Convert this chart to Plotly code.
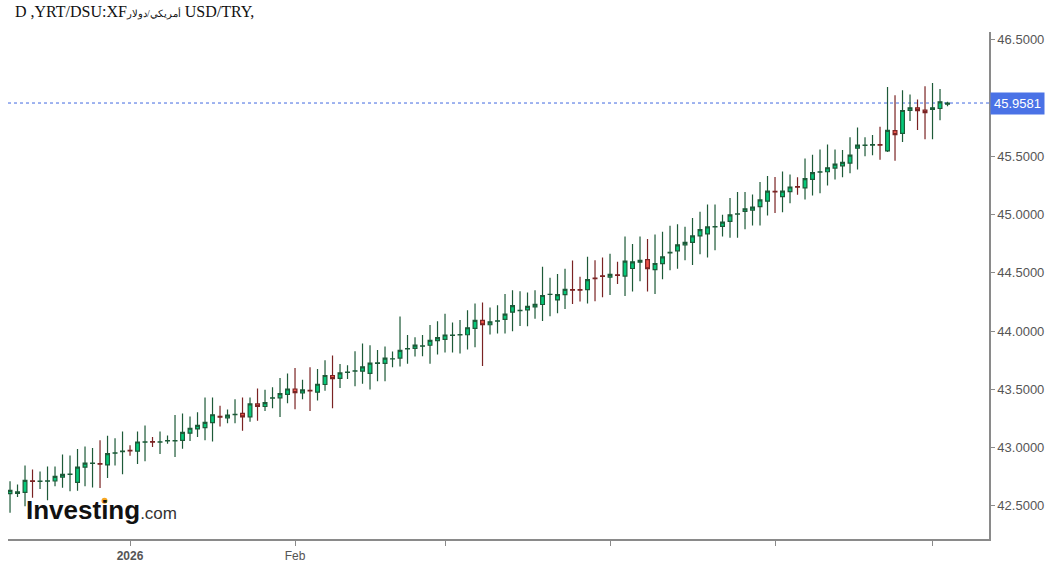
import pandas as pd
import plotly.graph_objects as go

# ---- data ----
dates = [d.strftime("%Y-%m-%d") for d in pd.bdate_range("2025-12-10", periods=126)]

open_ = [42.603, 42.605, 42.615, 42.714, 42.709, 42.710, 42.712, 42.746, 42.769, 42.701,
         42.831, 42.863, 42.862, 42.850, 42.951, 42.965, 42.975, 42.968, 43.045, 43.050,
         43.046, 43.056, 43.056, 43.061, 43.123, 43.159, 43.170, 43.213, 43.267, 43.255,
         43.282, 43.292, 43.263, 43.374, 43.352, 43.424, 43.426, 43.456, 43.502, 43.468,
         43.491, 43.475, 43.541, 43.618, 43.594, 43.645, 43.656, 43.655, 43.637, 43.723,
         43.723, 43.760, 43.768, 43.846, 43.851, 43.870, 43.878, 43.917, 43.929, 43.962,
         43.967, 43.968, 44.023, 44.091, 44.054, 44.085, 44.100, 44.162, 44.176, 44.182,
         44.207, 44.228, 44.314, 44.267, 44.313, 44.355, 44.355, 44.356, 44.455, 44.474,
         44.463, 44.483, 44.472, 44.537, 44.591, 44.614, 44.527, 44.578, 44.672, 44.689,
         44.740, 44.762, 44.817, 44.834, 44.894, 44.899, 44.941, 45.004, 45.027, 45.039,
         45.069, 45.115, 45.200, 45.155, 45.197, 45.240, 45.229, 45.303, 45.365, 45.368,
         45.399, 45.419, 45.442, 45.570, 45.595, 45.597, 45.601, 45.547, 45.721, 45.698,
         45.894, 45.917, 45.897, 45.903, 45.911, 45.948]

high = [42.709, 42.683, 42.845, 42.811, 42.794, 42.837, 42.837, 42.939, 42.931, 42.987,
        43.008, 42.996, 43.063, 43.101, 43.080, 43.138, 43.020, 43.138, 43.189, 43.090,
        43.138, 43.102, 43.278, 43.292, 43.265, 43.302, 43.430, 43.430, 43.358, 43.326,
        43.415, 43.430, 43.430, 43.506, 43.495, 43.518, 43.596, 43.636, 43.682, 43.582,
        43.690, 43.674, 43.748, 43.789, 43.716, 43.707, 43.826, 43.892, 43.878, 43.837,
        43.868, 43.824, 44.124, 43.966, 43.947, 43.966, 44.051, 44.085, 44.148, 44.074,
        44.094, 44.179, 44.236, 44.245, 44.202, 44.222, 44.318, 44.350, 44.341, 44.330,
        44.350, 44.552, 44.458, 44.489, 44.535, 44.606, 44.466, 44.638, 44.608, 44.631,
        44.663, 44.595, 44.811, 44.748, 44.811, 44.791, 44.830, 44.853, 44.904, 44.918,
        44.895, 44.970, 45.024, 45.086, 45.086, 44.998, 45.143, 45.195, 45.195, 45.172,
        45.280, 45.331, 45.323, 45.371, 45.345, 45.320, 45.482, 45.513, 45.559, 45.602,
        45.559, 45.555, 45.664, 45.747, 45.664, 45.683, 45.755, 46.096, 46.025, 46.067,
        46.031, 45.988, 46.102, 46.131, 46.079, 45.968]

low = [42.439, 42.575, 42.496, 42.569, 42.643, 42.547, 42.666, 42.654, 42.624, 42.629,
       42.666, 42.657, 42.652, 42.737, 42.845, 42.771, 42.929, 42.859, 42.882, 43.005,
       42.944, 43.031, 42.918, 42.988, 43.055, 43.090, 43.063, 43.051, 43.180, 43.207,
       43.207, 43.144, 43.221, 43.229, 43.314, 43.336, 43.262, 43.380, 43.329, 43.414,
       43.314, 43.403, 43.488, 43.336, 43.511, 43.588, 43.526, 43.548, 43.498, 43.569,
       43.569, 43.688, 43.695, 43.719, 43.782, 43.784, 43.719, 43.798, 43.815, 43.815,
       43.807, 43.841, 43.861, 43.699, 43.970, 43.978, 43.978, 43.999, 44.044, 44.042,
       44.106, 44.087, 44.127, 44.153, 44.190, 44.233, 44.254, 44.237, 44.256, 44.290,
       44.310, 44.404, 44.301, 44.340, 44.427, 44.340, 44.319, 44.444, 44.523, 44.535,
       44.608, 44.566, 44.660, 44.632, 44.694, 44.811, 44.800, 44.800, 44.873, 44.907,
       44.907, 44.992, 45.013, 45.021, 45.098, 45.170, 45.129, 45.163, 45.184, 45.249,
       45.301, 45.320, 45.356, 45.388, 45.502, 45.510, 45.470, 45.538, 45.462, 45.624,
       45.803, 45.726, 45.647, 45.647, 45.811, 45.931]

close = [42.632, 42.618, 42.717, 42.709, 42.712, 42.713, 42.752, 42.769, 42.771, 42.831,
         42.865, 42.865, 42.856, 42.948, 42.953, 42.968, 42.970, 43.047, 43.048, 43.045,
         43.049, 43.058, 43.058, 43.129, 43.165, 43.189, 43.216, 43.281, 43.261, 43.278,
         43.285, 43.263, 43.374, 43.352, 43.386, 43.427, 43.462, 43.502, 43.471, 43.494,
         43.486, 43.543, 43.618, 43.592, 43.640, 43.648, 43.659, 43.693, 43.725, 43.726,
         43.768, 43.762, 43.834, 43.849, 43.879, 43.872, 43.920, 43.943, 43.966, 43.965,
         43.970, 44.028, 44.091, 44.054, 44.079, 44.088, 44.145, 44.219, 44.178, 44.211,
         44.230, 44.305, 44.316, 44.313, 44.358, 44.350, 44.350, 44.441, 44.450, 44.469,
         44.486, 44.478, 44.600, 44.594, 44.608, 44.535, 44.580, 44.637, 44.675, 44.740,
         44.762, 44.817, 44.870, 44.894, 44.897, 44.936, 44.998, 45.006, 45.050, 45.064,
         45.126, 45.201, 45.195, 45.201, 45.237, 45.235, 45.308, 45.361, 45.367, 45.402,
         45.433, 45.448, 45.510, 45.596, 45.597, 45.600, 45.596, 45.724, 45.687, 45.894,
         45.917, 45.892, 45.875, 45.917, 45.968, 45.9581]

last_price = 45.9581
# 46.0000 is hidden under the current-price label in the reference
y_ticks = [42.5, 43.0, 43.5, 44.0, 44.5, 45.0, 45.5, 46.5]
x_tick_dates = ["2026-01-01", "2026-02-02", "2026-03-02", "2026-04-01", "2026-05-01", "2026-06-01"]
x_tick_text = ["<b>2026</b>", "Feb", "", "", "", ""]
title_text = ('D ,YRT/DSU:XF<span style="font-size:10px">أمريكي/دولار</span> USD/TRY,')

# ---- figure ----
fig = go.Figure()
fig.add_trace(go.Candlestick(
    x=dates, open=open_, high=high, low=low, close=close,
    increasing=dict(fillcolor="#05c97a", line=dict(color="#1d5a38", width=1.2)),
    decreasing=dict(fillcolor="#f2574c", line=dict(color="#7a2323", width=1.2)),
    showlegend=False, hoverinfo="skip",
))

# current price dotted line
fig.add_shape(type="line", xref="paper", x0=0, x1=1, yref="y", y0=last_price, y1=last_price,
              line=dict(color="#4169e1", width=1, dash="dot"), layer="below")

# price label
fig.add_annotation(xref="paper", x=1.0, yref="y", y=last_price, xanchor="left", yanchor="middle",
                   text=f"{last_price:.4f}", showarrow=False,
                   font=dict(family="Liberation Sans, Arial", size=13, color="white"),
                   bgcolor="#4a72e6", borderpad=3, xshift=1)

# Investing.com logo
fig.add_annotation(xref="paper", x=0.0165, yref="paper", y=0.057, xanchor="left", yanchor="middle",
                   text='<b>Investing</b><span style="font-size:17px;color:#333">.com</span>',
                   showarrow=False,
                   font=dict(family="Liberation Sans, Arial", size=26, color="#111"))
# orange dot of the logo's "i"
fig.add_shape(type="circle", xref="paper", yref="paper",
              x0=(101.5 - 8) / 981, x1=(107.5 - 8) / 981, y0=(542 - 506.5) / 510, y1=(542 - 500.5) / 510,
              fillcolor="#f5a623", line=dict(width=0), layer="above")

fig.update_layout(
    width=1059, height=571,
    margin=dict(l=8, r=70, t=32, b=29),
    paper_bgcolor="white", plot_bgcolor="white",
    boxgap=0.28,
    title=dict(text=title_text, x=15 / 1059, y=1 - 6 / 571, xref="container", yref="container",
               xanchor="left", yanchor="top",
               font=dict(family="Liberation Serif, Times New Roman", size=16, color="#111")),
    xaxis=dict(type="category", range=[-0.27, 130.53], rangeslider=dict(visible=False),
               showgrid=False, zeroline=False, showline=True, linecolor="#8a8a8a", linewidth=1.5,
               ticks="outside", ticklen=5, tickcolor="#8a8a8a", tickwidth=1,
               tickmode="array", tickvals=x_tick_dates, ticktext=x_tick_text,
               tickfont=dict(family="Liberation Sans, Arial", size=12, color="#555")),
    yaxis=dict(side="right", range=[42.214, 46.568], showgrid=False, zeroline=False,
               showline=True, linecolor="#8a8a8a", linewidth=1.5,
               ticks="outside", ticklen=4, tickcolor="#8a8a8a", tickwidth=1,
               tickmode="array", tickvals=y_ticks, tickformat=".4f",
               tickfont=dict(family="Liberation Sans, Arial", size=13, color="#555")),
)

fig.write_html("out.html")
